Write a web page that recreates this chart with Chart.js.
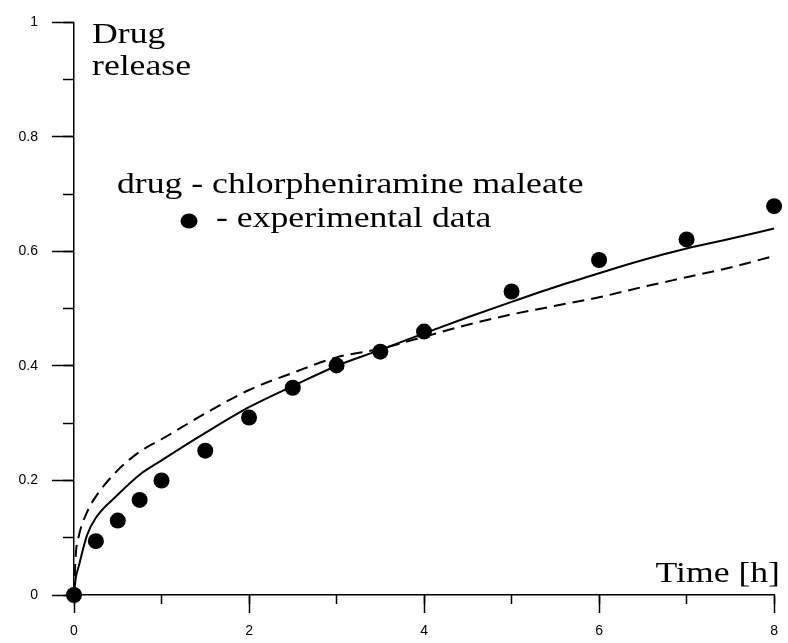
<!DOCTYPE html>
<html lang="en">
<head>
    <meta charset="UTF-8">
    <title>Drug release</title>
    <script src="https://cdn.jsdelivr.net/npm/chart.js"></script>
    <style>
        html, body { margin: 0; padding: 0; background: #fff; }
        .wrap { width: 788px; height: 643px; position: relative; }
    </style>
</head>
<body>
    <div class="wrap">
        <canvas id="releaseChart"></canvas>
    </div>
    <script>
        // experimental points
        const expTime = [0, 0.25, 0.5, 0.75, 1, 1.5, 2, 2.5, 3, 3.5, 4, 5, 6, 7, 8];
        const expRelease = [0, 0.094, 0.13, 0.166, 0.2, 0.252, 0.31, 0.362, 0.401, 0.425, 0.46, 0.53, 0.585, 0.621, 0.679];

        // model curves
        const fitTime = [0, 0.02, 0.05, 0.15, 0.25, 0.5, 0.75, 1, 1.5, 2, 2.5, 3, 3.5, 4, 4.5, 5, 5.5, 6, 6.5, 7, 7.5, 8];
        const solidFit = [0, 0.03, 0.048, 0.105, 0.135, 0.175, 0.21, 0.235, 0.283, 0.328, 0.365, 0.4, 0.428, 0.457, 0.485, 0.512, 0.538, 0.562, 0.585, 0.605, 0.622, 0.64];
        const dashedFit = [0, 0.07, 0.1, 0.145, 0.172, 0.218, 0.25, 0.272, 0.317, 0.358, 0.388, 0.415, 0.43, 0.451, 0.472, 0.49, 0.505, 0.52, 0.538, 0.555, 0.572, 0.592];

        // ticks
        const xTicks = [0, 2, 4, 6, 8];
        const xMinorTicks = [0, 1, 2, 3, 4, 5, 6, 7, 8];
        const yTicks = [0, 0.2, 0.4, 0.6, 0.8, 1];
        const yTickLabels = ['0', '0.2', '0.4', '0.6', '0.8', '1'];
        const yMinorTicks = [0, 0.1, 0.2, 0.3, 0.4, 0.5, 0.6, 0.7, 0.8, 0.9, 1];

        const toXY = (xs, ys) => xs.map((x, i) => ({ x: x, y: ys[i] }));
        const setTicks = list => scale => { scale.ticks = list.map(v => ({ value: v })); };
        const tickFont = { family: "'Liberation Sans', Arial, sans-serif", size: 14 };
        const serifFont = "29px 'Liberation Serif', 'Times New Roman', Times, serif";

        // stretched serif annotations
        const textPlugin = {
            id: 'annotations',
            afterDraw(chart) {
                const ctx = chart.ctx;
                const put = (txt, x, y, align) => {
                    ctx.save();
                    ctx.translate(x, y);
                    ctx.scale(1.23, 1);
                    ctx.font = serifFont;
                    ctx.fillStyle = '#000';
                    ctx.textAlign = align;
                    ctx.textBaseline = 'alphabetic';
                    ctx.fillText(txt, 0, 0);
                    ctx.restore();
                };
                put('Drug', 92, 43, 'left');
                put('release', 92, 75, 'left');
                put('drug - chlorpheniramine maleate', 117, 193, 'left');
                put('- experimental data', 216, 227, 'left');
                put('Time [h]', 780, 582, 'right');

                ctx.save();
                ctx.fillStyle = '#000';
                ctx.beginPath();
                ctx.ellipse(189, 221, 8.5, 7.5, 0, 0, Math.PI * 2);
                ctx.fill();
                ctx.restore();
            }
        };

        const chart = new Chart(document.getElementById('releaseChart'), {
            type: 'scatter',
            data: {
                datasets: [
                    {
                        label: 'experimental data',
                        data: toXY(expTime, expRelease),
                        backgroundColor: '#000',
                        borderColor: '#000',
                        pointRadius: 8,
                        borderWidth: 0,
                        showLine: false,
                        clip: false
                    },
                    {
                        label: 'model',
                        data: toXY(fitTime, solidFit),
                        showLine: true,
                        borderColor: '#000',
                        borderWidth: 2,
                        pointRadius: 0,
                        cubicInterpolationMode: 'monotone',
                        fill: false
                    },
                    {
                        label: 'model 2',
                        data: toXY(fitTime, dashedFit),
                        showLine: true,
                        borderColor: '#000',
                        borderWidth: 2,
                        borderDash: [12, 7],
                        pointRadius: 0,
                        cubicInterpolationMode: 'monotone',
                        fill: false
                    }
                ]
            },
            options: {
                responsive: true,
                maintainAspectRatio: false,
                animation: false,
                devicePixelRatio: 1,
                layout: { padding: { left: 0, right: 4, top: 12, bottom: 0 } },
                plugins: {
                    legend: { display: false },
                    tooltip: { enabled: false }
                },
                scales: {
                    x: {
                        type: 'linear', position: 'bottom', min: 0, max: 8, weight: 1,
                        afterBuildTicks: setTicks(xTicks),
                        afterFit: s => { s.height = 48; },
                        grid: { drawOnChartArea: false, tickLength: 18, color: '#000', tickWidth: 1.5 },
                        border: { color: '#000', width: 1.5 },
                        ticks: { font: tickFont, color: '#000', padding: 10, maxRotation: 0 }
                    },
                    xMinor: {
                        type: 'linear', position: 'bottom', min: 0, max: 8, weight: 0,
                        afterBuildTicks: setTicks(xMinorTicks),
                        afterFit: s => { s.height = 0; },
                        grid: { drawOnChartArea: false, tickLength: 9, color: '#000', tickWidth: 1.5 },
                        border: { display: false },
                        ticks: { display: false }
                    },
                    y: {
                        type: 'linear', position: 'left', min: 0, max: 1, weight: 1,
                        afterBuildTicks: setTicks(yTicks),
                        afterFit: s => { s.width = 74; },
                        grid: { drawOnChartArea: false, tickLength: 22, color: '#000', tickWidth: 1.5 },
                        border: { color: '#000', width: 1.5 },
                        ticks: {
                            font: tickFont, color: '#000', padding: 14,
                            callback: (v, i) => yTickLabels[i]
                        }
                    },
                    yMinor: {
                        type: 'linear', position: 'left', min: 0, max: 1, weight: 0,
                        afterBuildTicks: setTicks(yMinorTicks),
                        afterFit: s => { s.width = 0; },
                        grid: { drawOnChartArea: false, tickLength: 11, color: '#000', tickWidth: 1.5 },
                        border: { display: false },
                        ticks: { display: false }
                    }
                }
            },
            plugins: [textPlugin]
        });

        if (document.fonts && document.fonts.load) {
            Promise.all([
                document.fonts.load(serifFont),
                document.fonts.load("14px 'Liberation Sans'")
            ]).then(() => chart.update());
        }
    </script>
</body>
</html>
